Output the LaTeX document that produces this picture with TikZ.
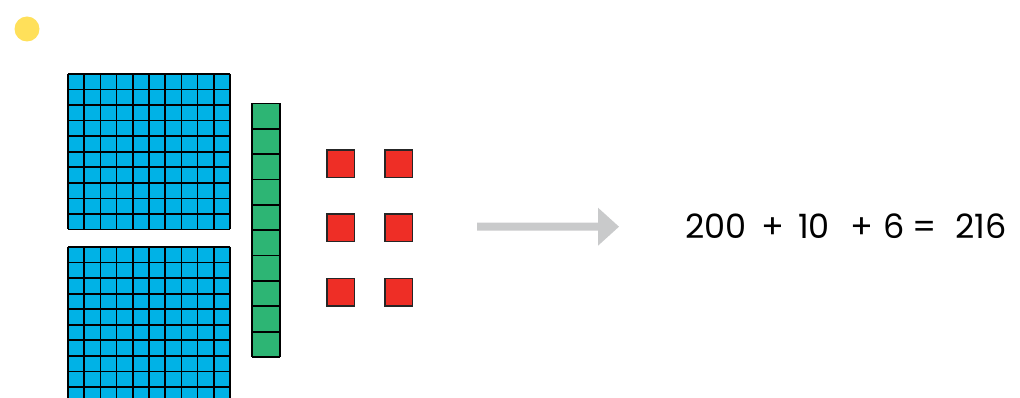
\documentclass[tikz,border=0pt]{standalone}
\usepackage{fontspec}
\newfontfamily\eqfont{Poppins}
\definecolor{unitblue}{HTML}{00B2E6}
\definecolor{tengreen}{HTML}{2DB574}
\definecolor{onered}{HTML}{EE2E26}
\definecolor{dotyellow}{HTML}{FFE05A}
\definecolor{arrowgray}{HTML}{C9CACB}
\tikzset{
  gridline/.style={black, line width=1.7pt},
  onecube/.style={fill=onered, draw=black!85, line width=1.3pt},
  eqtext/.style={font=\eqfont\fontsize{33.5}{40}\selectfont, inner sep=0pt, anchor=base west},
  hundred/.pic={
    \fill[unitblue] (0,0) rectangle (162,155.5);
    \foreach \i in {0,...,10} \draw[gridline] (\i*16.2,0) -- ++(0,155.5);
    \foreach \j in {0,...,10} \draw[gridline] (0,\j*15.55) -- ++(162,0);
  },
  tenrod/.pic={
    \fill[tengreen] (0,0) rectangle (28,253.5);
    \foreach \j in {0,...,10} \draw[gridline] (0,\j*25.35) -- ++(28,0);
    \draw[gridline] (0,0) -- (0,253.5) (28,0) -- (28,253.5);
  }
}
\begin{document}
\begin{tikzpicture}[x=1pt,y=-1pt]
\useasboundingbox (0,0) rectangle (1020,398);
\clip (0,0) rectangle (1020,398);

% marker dot
\fill[dotyellow] (27,29) circle (12.5);

% two hundred-flats
\pic at (68,74) {hundred};
\pic at (68,247) {hundred};

% one ten-rod
\pic at (252,103.5) {tenrod};

% six unit cubes
\foreach \x in {327,385}
  \foreach \y in {150,214,278.5}
    \draw[onecube] (\x,\y) rectangle ++(27.5,27.5);

% arrow
\fill[arrowgray] (477,222.7) -- (598,222.7) -- (598,207.7) -- (619,226.7)
  -- (598,245.7) -- (598,230.7) -- (477,230.7) -- cycle;

% equation
\node[eqtext] (n200) at (685,238.5) {200};
\node[eqtext] (p1) at (761,238.5) {+};
\node[eqtext] (n10) at (798,238.5) {10};
\node[eqtext] (p2) at (850,238.5) {+};
\node[eqtext] (n6) at (883,238.5) {6};
\node[eqtext] (eq) at (912,238.5) {=};
\node[eqtext] (n216) at (955,238.5) {216};
\end{tikzpicture}
\end{document}
